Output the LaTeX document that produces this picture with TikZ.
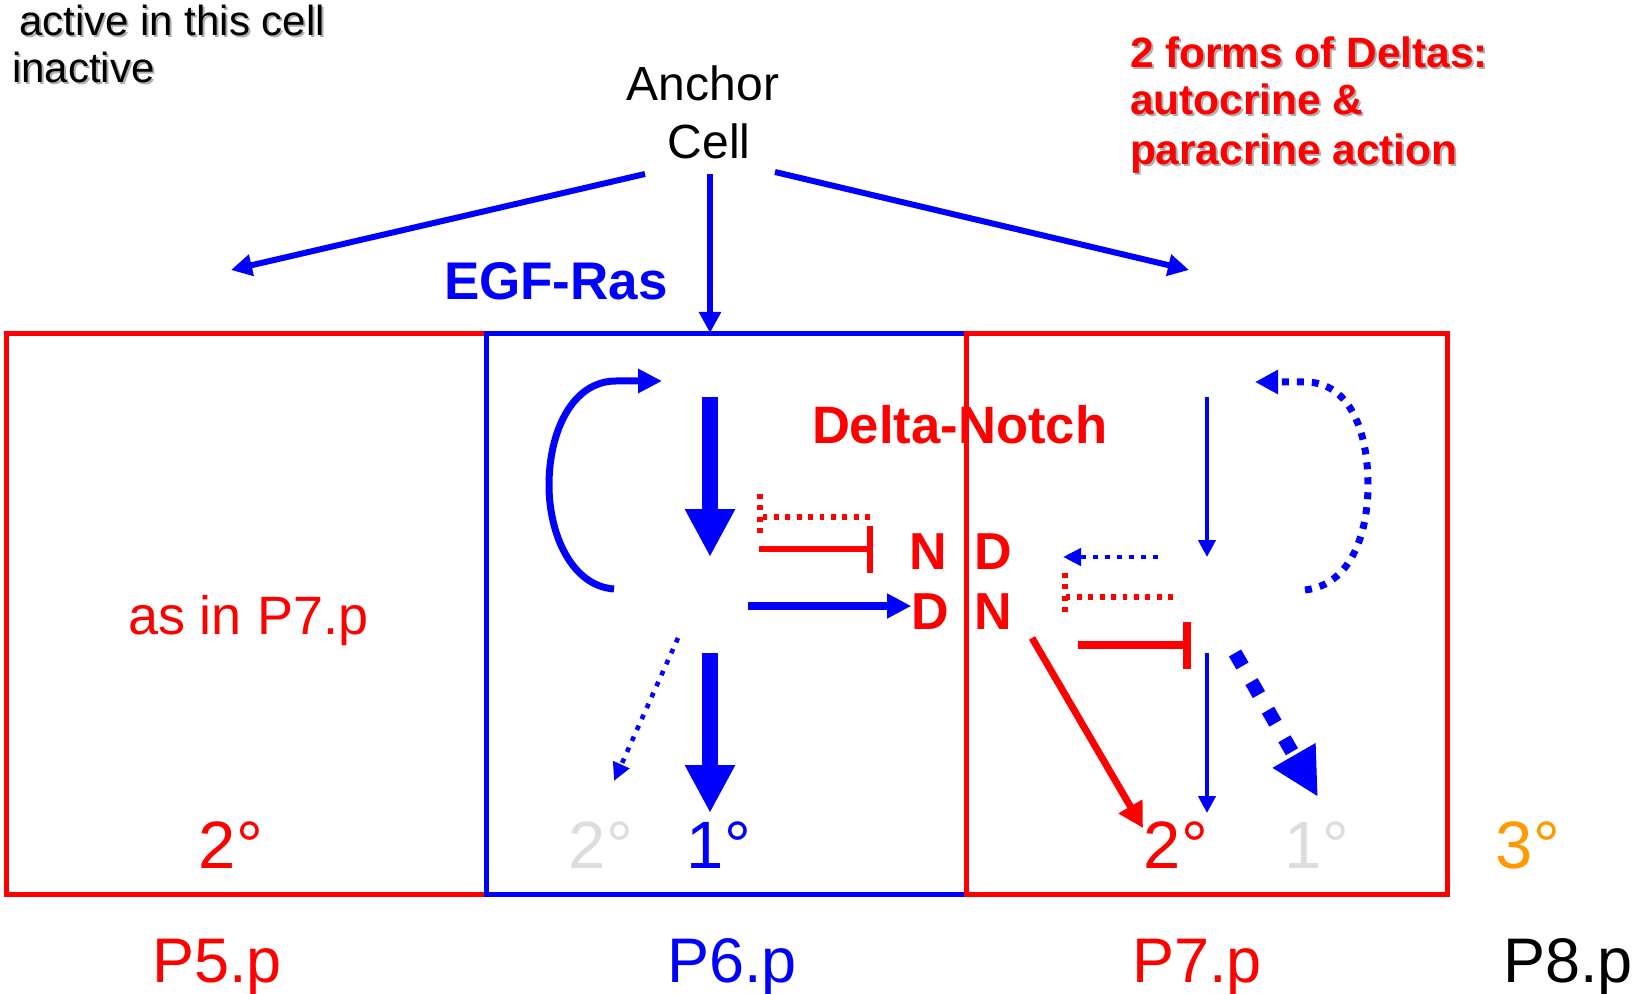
\documentclass[tikz,border=0pt]{standalone}
\usepackage{fontspec}
\setmainfont{Liberation Sans}
\usetikzlibrary{arrows.meta}
\definecolor{pred}{RGB}{255,0,0}
\definecolor{pblue}{RGB}{0,0,255}
\definecolor{pgray}{RGB}{221,221,221}
\definecolor{porange}{RGB}{255,153,0}
\definecolor{shadowgray}{RGB}{175,175,175}
\begin{document}
\begin{tikzpicture}[x=0.5pt,y=-0.5pt,
  txt/.style={inner sep=0pt, outer sep=0pt},
  cellbox/.style={line width=2.5pt},
  egfarrow/.style={pblue, line width=3pt, -{Triangle[length=10.5pt,width=10.5pt]}},
  fatarrow/.style={pblue, line width=7.8pt, -{Triangle[length=24pt,width=23.5pt]}},
  medarrow/.style={pblue, line width=3.8pt, -{Triangle[length=12pt,width=11.7pt]}},
  thinarrow/.style={pblue, line width=2.2pt, -{Triangle[length=8.5pt,width=8.5pt]}},
  dotarrow/.style={pblue, line width=2.3pt, dash pattern=on 2.4pt off 3.6pt, -{Triangle[length=9pt,width=8.5pt]}},
  loopdot/.style={pblue, line width=3.5pt, dash pattern=on 3.5pt off 4pt, -{Triangle[length=11.5pt,width=11.5pt]}},
  bigdot/.style={pblue, line width=7pt, dash pattern=on 7.5pt off 9pt, -{Triangle[length=24pt,width=23pt]}},
  inhib/.style={pred, line width=3.3pt},
  inhibdot/.style={pred, line width=2.6pt, dash pattern=on 2.4pt off 3.3pt},
  redarrow/.style={pred, line width=3.5pt, -{Triangle[length=12.5pt,width=13pt]}},
  degree/.style={txt, anchor=base, font=\fontsize{33.5}{38}\selectfont},
  plabel/.style={txt, anchor=base, font=\fontsize{31.5}{36}\selectfont}
]
\useasboundingbox (0,0) rectangle (1638,994);

% cell boxes
\draw[cellbox, pred] (6,334) rectangle (486,894);
\draw[cellbox, pblue] (486,334) rectangle (966,894);
\draw[cellbox, pred] (966,334) rectangle (1447,894);

% legend text (with shadow)
\node[txt, anchor=base west, shadowgray, font=\fontsize{21}{25}\selectfont] at (21,38) {active in this cell};
\node[txt, anchor=base west, font=\fontsize{21}{25}\selectfont] (act) at (19,36) {active in this cell};
\node[txt, anchor=base west, shadowgray, font=\fontsize{21}{25}\selectfont] at (14,85) {inactive};
\node[txt, anchor=base west, font=\fontsize{21}{25}\selectfont] (inact) at (12,83) {inactive};

% two forms of Deltas (with shadow)
\foreach \t/\yy in {{2 forms of Deltas:}/68, {autocrine \&}/115, {paracrine action}/165}{
  \node[txt, anchor=base west, shadowgray, font=\bfseries\fontsize{21.2}{25}\selectfont] at (1132,\yy+2) {\t};
  \node[txt, anchor=base west, pred, font=\bfseries\fontsize{21.2}{25}\selectfont] at (1130,\yy) {\t};
}

% anchor cell
\node[txt, anchor=base, font=\fontsize{24}{28}\selectfont] (anchor) at (703,101) {Anchor};
\node[txt, anchor=base, font=\fontsize{24}{28}\selectfont] (cell) at (709,159) {Cell};
\coordinate (acL) at (645,174);
\coordinate (acM) at (710,174);
\coordinate (acR) at (775,172);
\coordinate (p5top) at (231,270);
\coordinate (p6top) at (710,333);
\coordinate (p7top) at (1189,270);
\draw[egfarrow] (acL) -- (p5top);
\draw[egfarrow] (acM) -- (p6top);
\draw[egfarrow] (acR) -- (p7top);

\node[txt, anchor=base west, pblue, font=\bfseries\fontsize{26.5}{30}\selectfont] (egf) at (444,300) {EGF-Ras};
\node[txt, anchor=base west, pred, font=\bfseries\fontsize{26.3}{30}\selectfont] (dn) at (812,444) {Delta-Notch};

% N D / D N labels
\node[txt, anchor=base, pred, font=\bfseries\fontsize{26}{30}\selectfont] (n1) at (928,569) {N};
\node[txt, anchor=base, pred, font=\bfseries\fontsize{26}{30}\selectfont] (d1) at (993,569) {D};
\node[txt, anchor=base, pred, font=\bfseries\fontsize{26}{30}\selectfont] (d2) at (930,629) {D};
\node[txt, anchor=base, pred, font=\bfseries\fontsize{26}{30}\selectfont] (n2) at (993,629) {N};

% P5 text
\node[txt, anchor=base west, pred, font=\fontsize{27}{32}\selectfont] (asin) at (128,634) {as in P7.p};

% P6 internals
\draw[pblue, line width=3.5pt, -{Triangle[length=12pt,width=11.5pt]}]
  (614,589) .. controls (572,586) and (549,535) .. (549,485)
  .. controls (549,432) and (572,381) .. (616,381) -- (662,381);
\draw[fatarrow] (710,397) -- (710,557);
\draw[fatarrow] (710,653) -- (710,813);
\draw[medarrow] (748,606) -- (d2.west |- 0,606);
\draw[inhib] (759,549) -- (870,549);
\draw[inhib] (870,526) -- (870,573);
\draw[inhibdot] (870,517) -- (760,517);
\draw[inhibdot] (760,494) -- (760,536);
\draw[dotarrow] (678,638) -- (614,781);

% P7 internals
\draw[thinarrow] (1207,397) -- (1207,557);
\draw[thinarrow] (1207,653) -- (1207,813);
\draw[loopdot]
  (1305,590) .. controls (1350,585) and (1368,535) .. (1368,485)
  .. controls (1368,432) and (1350,382) .. (1305,382) -- (1255,382);
\draw[dotarrow] (1158,557) -- (1063,557);
\draw[inhibdot] (1173,597) -- (1065,597);
\draw[inhibdot] (1065,573) -- (1065,616);
\draw[pred, line width=4pt] (1078,645) -- (1187,645);
\draw[pred, line width=4pt] (1187,622) -- (1187,669);
\draw[redarrow] (1032,638) -- (1143,828);
\draw[bigdot] (1235,653) -- (1318,797);

% fates
\node[degree, pred] (f5) at (231,868) {2°};
\node[degree, pgray] (f6a) at (601,868) {2°};
\node[degree, pblue] (f6b) at (719,868) {1°};
\node[degree, pred] (f7a) at (1176,868) {2°};
\node[degree, pgray] (f7b) at (1317,868) {1°};
\node[degree, porange] (f8) at (1528,868) {3°};

% cell names
\node[plabel, pred] (p5) at (217,982) {P5.p};
\node[plabel, pblue] (p6) at (732,982) {P6.p};
\node[plabel, pred] (p7) at (1197,982) {P7.p};
\node[plabel, black] (p8) at (1568,982) {P8.p};
\end{tikzpicture}
\end{document}
